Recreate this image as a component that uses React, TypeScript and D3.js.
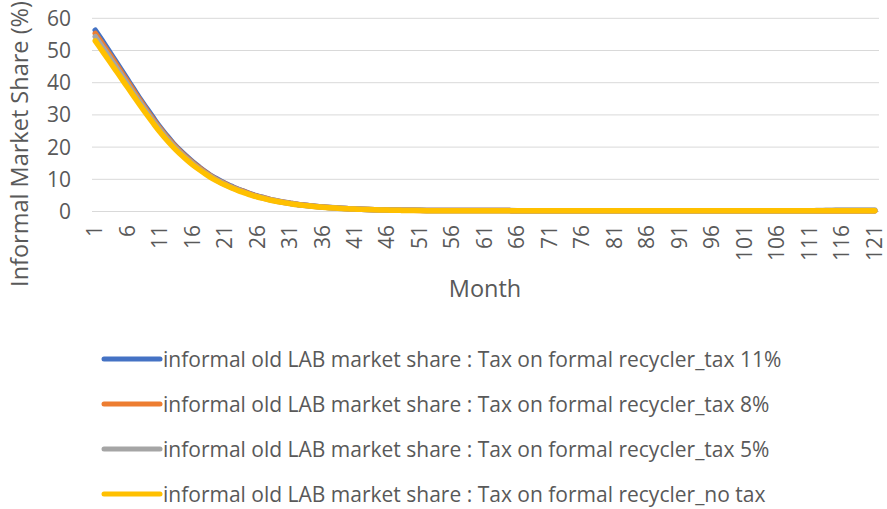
import * as d3 from "d3";
import React from "react";

// months 1..121
const months: number[] = d3.range(1, 122);

const xTickLabels: number[] = [1, 6, 11, 16, 21, 26, 31, 36, 41, 46, 51, 56, 61, 66, 71, 76, 81, 86, 91, 96, 101, 106, 111, 116, 121];
const yTicks: number[] = [0, 10, 20, 30, 40, 50, 60];

const seriesNames: string[] = [
  "informal old LAB market share : Tax on formal recycler_tax 11%",
  "informal old LAB market share : Tax on formal recycler_tax 8%",
  "informal old LAB market share : Tax on formal recycler_tax 5%",
  "informal old LAB market share : Tax on formal recycler_no tax",
];
const seriesColors: string[] = ["#4472C4", "#ED7D31", "#A5A5A5", "#FFC000"];

const tax11: number[] = [
  56.3, 53.3, 50.2, 47.1, 44.0, 40.9, 37.8, 34.7, 31.8, 28.9,
  26.1, 23.6, 21.2, 19.1, 17.2, 15.4, 13.8, 12.3, 10.9, 9.8,
  8.7, 7.8, 6.9, 6.2, 5.4, 4.8, 4.25, 3.7, 3.3, 2.92,
  2.6, 2.28, 2.02, 1.8, 1.59, 1.41, 1.25, 1.12, 0.99, 0.88,
  0.79, 0.71, 0.64, 0.58, 0.53, 0.48, 0.44, 0.41, 0.38, 0.36,
  0.35, 0.34, 0.34, 0.33, 0.33, 0.32, 0.32, 0.32, 0.31, 0.31,
  0.31, 0.3, 0.3, 0.29, 0.27, 0.25, 0.23, 0.22, 0.21, 0.2,
  0.2, 0.2, 0.2, 0.2, 0.2, 0.2, 0.2, 0.2, 0.2, 0.2,
  0.2, 0.2, 0.2, 0.2, 0.2, 0.2, 0.2, 0.2, 0.2, 0.2,
  0.2, 0.2, 0.2, 0.2, 0.2, 0.2, 0.2, 0.2, 0.2, 0.2,
  0.2, 0.2, 0.2, 0.2, 0.2, 0.2, 0.2, 0.2, 0.2, 0.2,
  0.2, 0.2, 0.2, 0.2, 0.2, 0.2, 0.2, 0.2, 0.2, 0.2,
  0.2,
];

const tax8: number[] = [
  55.3, 52.4, 49.4, 46.4, 43.3, 40.3, 37.2, 34.2, 31.2, 28.4,
  25.7, 23.2, 20.9, 18.8, 16.9, 15.2, 13.6, 12.1, 10.8, 9.6,
  8.6, 7.6, 6.8, 6.1, 5.3, 4.7, 4.2, 3.7, 3.25, 2.87,
  2.56, 2.25, 1.99, 1.78, 1.57, 1.39, 1.23, 1.1, 0.97, 0.87,
  0.78, 0.7, 0.63, 0.57, 0.52, 0.47, 0.43, 0.4, 0.37, 0.35,
  0.34, 0.33, 0.33, 0.32, 0.32, 0.32, 0.31, 0.31, 0.31, 0.31,
  0.3, 0.3, 0.3, 0.29, 0.27, 0.25, 0.23, 0.22, 0.21, 0.2,
  0.2, 0.2, 0.2, 0.2, 0.2, 0.2, 0.2, 0.2, 0.2, 0.2,
  0.2, 0.2, 0.2, 0.2, 0.2, 0.2, 0.2, 0.2, 0.2, 0.2,
  0.2, 0.2, 0.2, 0.2, 0.2, 0.2, 0.2, 0.2, 0.2, 0.2,
  0.2, 0.2, 0.2, 0.2, 0.2, 0.2, 0.2, 0.2, 0.2, 0.2,
  0.2, 0.2, 0.2, 0.2, 0.2, 0.2, 0.2, 0.2, 0.2, 0.2,
  0.2,
];

const tax5: number[] = [
  54.3, 51.4, 48.5, 45.5, 42.5, 39.5, 36.5, 33.6, 30.7, 27.9,
  25.3, 22.8, 20.5, 18.5, 16.6, 14.9, 13.3, 11.9, 10.6, 9.4,
  8.4, 7.5, 6.7, 5.9, 5.2, 4.6, 4.1, 3.6, 3.2, 2.8,
  2.5, 2.2, 1.95, 1.74, 1.54, 1.36, 1.21, 1.08, 0.96, 0.86,
  0.77, 0.69, 0.62, 0.56, 0.51, 0.47, 0.43, 0.4, 0.38, 0.36,
  0.35, 0.34, 0.34, 0.33, 0.33, 0.33, 0.32, 0.32, 0.32, 0.32,
  0.31, 0.31, 0.31, 0.3, 0.28, 0.26, 0.24, 0.22, 0.21, 0.2,
  0.2, 0.2, 0.2, 0.2, 0.2, 0.2, 0.2, 0.2, 0.2, 0.2,
  0.2, 0.2, 0.2, 0.2, 0.2, 0.2, 0.2, 0.2, 0.2, 0.2,
  0.2, 0.2, 0.2, 0.2, 0.2, 0.2, 0.2, 0.2, 0.2, 0.2,
  0.2, 0.2, 0.2, 0.2, 0.2, 0.2, 0.2, 0.2, 0.2, 0.2,
  0.22, 0.28, 0.34, 0.4, 0.45, 0.48, 0.5, 0.5, 0.5, 0.5,
  0.5,
];

const noTax: number[] = [
  53.0, 50.1, 47.2, 44.3, 41.4, 38.5, 35.6, 32.7, 29.9, 27.2,
  24.6, 22.2, 20.0, 18.0, 16.2, 14.5, 13.0, 11.6, 10.3, 9.2,
  8.2, 7.3, 6.5, 5.8, 5.1, 4.5, 4.0, 3.5, 3.1, 2.75,
  2.45, 2.15, 1.9, 1.7, 1.5, 1.33, 1.18, 1.05, 0.93, 0.83,
  0.74, 0.66, 0.59, 0.53, 0.48, 0.43, 0.39, 0.35, 0.32, 0.3,
  0.28, 0.27, 0.26, 0.25, 0.24, 0.24, 0.23, 0.23, 0.22, 0.22,
  0.22, 0.21, 0.21, 0.21, 0.21, 0.2, 0.2, 0.2, 0.2, 0.2,
  0.2, 0.2, 0.2, 0.2, 0.2, 0.2, 0.2, 0.2, 0.2, 0.2,
  0.2, 0.2, 0.2, 0.2, 0.2, 0.2, 0.2, 0.2, 0.2, 0.2,
  0.2, 0.2, 0.2, 0.2, 0.2, 0.2, 0.2, 0.2, 0.2, 0.2,
  0.2, 0.2, 0.2, 0.2, 0.2, 0.2, 0.2, 0.2, 0.2, 0.2,
  0.2, 0.2, 0.2, 0.2, 0.2, 0.2, 0.2, 0.2, 0.2, 0.2,
  0.2,
];

const seriesValues: number[][] = [tax11, tax8, tax5, noTax];

const W = 887;
const H = 509;
const plot = { left: 92, right: 878, top: 18.3, bottom: 211.5 };
const textColor = "#595959";
const font = "'Open Sans', Calibri, sans-serif";

const App = () => {
  const x = d3.scaleBand<number>().domain(months).range([plot.left, plot.right]);
  const cx = (m: number) => (x(m) as number) + x.bandwidth() / 2;
  const y = d3.scaleLinear().domain([0, 60]).range([plot.bottom, plot.top]);

  const line = d3
    .line<number>()
    .x((d, i) => cx(months[i]))
    .y((d) => y(d))
    .curve(d3.curveMonotoneX);

  return (
    <svg
      width={W}
      height={H}
      style={{ position: "absolute", left: 0, top: 0, background: "#fff" }}
      fontFamily={font}
    >
      {/* gridlines */}
      {yTicks.map((t) => (
        <line key={t} x1={plot.left} x2={plot.right + 1} y1={y(t)} y2={y(t)} stroke="#d9d9d9" strokeWidth={1} />
      ))}

      {/* y tick labels */}
      {yTicks.map((t) => (
        <text key={t} x={71} y={y(t)} dy="0.36em" textAnchor="end" fontSize={21} fill={textColor}>
          {t}
        </text>
      ))}

      {/* x tick labels */}
      {xTickLabels.map((m) => (
        <text
          key={m}
          transform={`translate(${cx(m)}, 225) rotate(-90)`}
          dy="0.33em"
          textAnchor="end"
          fontSize={21}
          fill={textColor}
        >
          {m}
        </text>
      ))}

      {/* series lines */}
      {seriesValues.map((vals, i) => (
        <path
          key={i}
          d={line(vals) as string}
          fill="none"
          stroke={seriesColors[i]}
          strokeWidth={5.5}
          strokeLinecap="round"
          strokeLinejoin="round"
        />
      ))}

      {/* axis titles */}
      <text x={485} y={289} dy="0.36em" textAnchor="middle" fontSize={23.5} fill={textColor}>
        Month
      </text>
      <text
        transform={`translate(20, 144) rotate(-90)`}
        dy="0.36em"
        textAnchor="middle"
        fontSize={23.5}
        fill={textColor}
      >
        Informal Market Share (%)
      </text>

      {/* legend */}
      {seriesNames.map((name, i) => {
        const ly = 359 + i * 45;
        return (
          <g key={name}>
            <line x1={104} x2={160} y1={ly} y2={ly} stroke={seriesColors[i]} strokeWidth={5} strokeLinecap="round" />
            <text x={163} y={ly} dy="0.36em" fontSize={21} fill={textColor}>
              {name}
            </text>
          </g>
        );
      })}
    </svg>
  );
};

export default App;
